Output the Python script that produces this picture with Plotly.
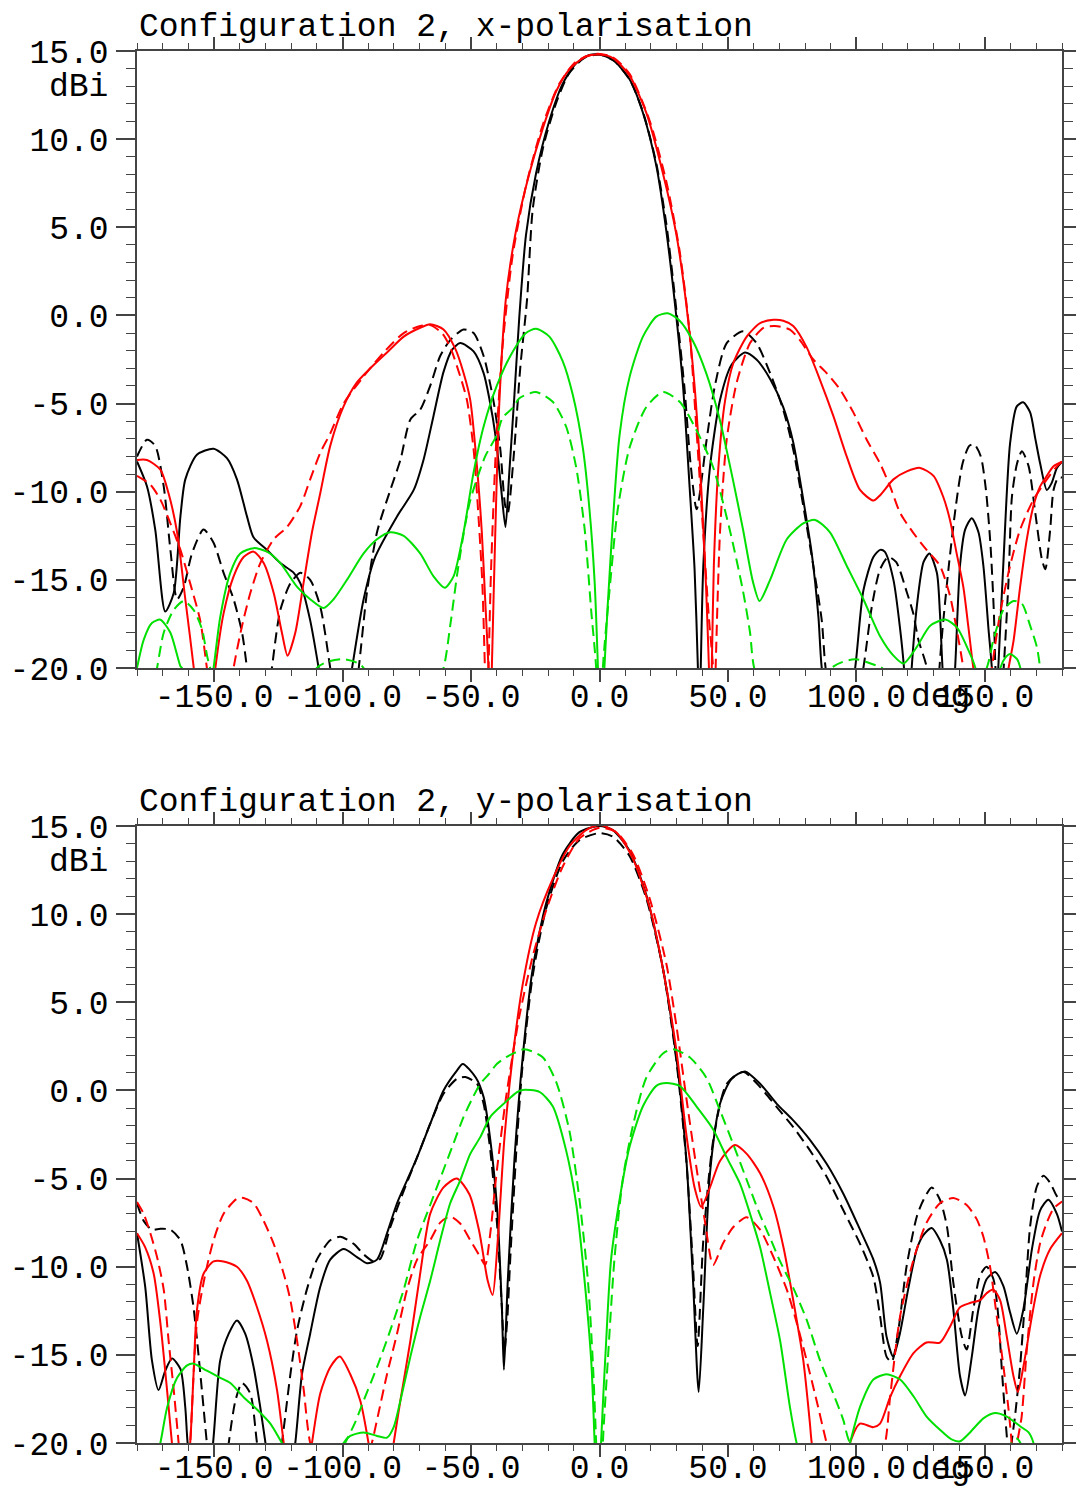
import plotly.graph_objects as go

# ---------------- data: top panel (x-polarisation) ----------------
top_black_solid_x = [-180, -176.1, -172.9, -169, -165.7, -163.1, -161.2, -156.7, -150.2, -145, -141.1, -137.2, -134.6, -129.4, -124.2, -119, -116.4, -112.6, -109.3, -102.8, -96.3, -91.8, -87.3, -78.8, -72.3, -68.5, -64.6, -60.7, -57.4, -54.2, -49, -45.1, -42.9, -40.3, -38.3, -36.6, -35.1, -33.1, -31.2, -28.6, -24.7, -19.5, -14.3, -9.1, -3.9, 0, 5.2, 11.7, 16.9, 22.1, 26, 29.9, 32.5, 35.1, 37, 38.3, 38.9, 39.4, 40.4, 43.0, 46.9, 51.4, 56.6, 61.1, 66.4, 71.5, 75.4, 79.3, 82.6, 85.2, 86.5, 93, 99.5, 102.7, 106.6, 109.2, 111, 114.4, 117, 118.5, 120, 121.5, 123.5, 126.1, 128.4, 131.3, 132.5, 133.5, 136, 138.4, 140.3, 142.3, 144.9, 147.5, 149.4, 151.4, 152.7, 154, 155.2, 157.2, 159.8, 162.4, 164.9, 167.6, 169.5, 171.5, 174.1, 176, 178, 180]
top_black_solid_y = [-8.28, -9.7, -12.15, -16.8, -15.75, -11.4, -9.3, -7.9, -7.56, -8.1, -9.3, -11.4, -12.6, -13.3, -14.05, -14.6, -15.2, -17.3, -20, -26, -20, -16.1, -13.7, -11.4, -9.9, -8.2, -5.7, -3.2, -1.95, -1.57, -2.04, -3.27, -4.7, -7.0, -9.8, -12.0, -8.9, -4.5, -0.07, 4.57, 8.05, 11.06, 13.15, 14.3, 14.77, 14.8, 14.5, 13.4, 11.5, 8.5, 4.8, -0.07, -4.0, -9.8, -14.4, -20, -23, -20, -14.2, -8.6, -4.8, -2.8, -2.1, -2.5, -3.6, -5.2, -7.2, -10.45, -13.5, -17.1, -20, -26, -20, -15.6, -13.7, -13.3, -13.4, -15.0, -17.8, -20, -24, -20, -16.5, -14.0, -13.5, -14.6, -16.9, -20, -25, -20, -14.2, -12.15, -11.5, -12.3, -14.2, -17.8, -20, -24, -20, -14.0, -7.25, -5.16, -4.93, -5.5, -6.9, -8.4, -9.9, -9.5, -8.65, -8.3]

top_black_dash_x = [-180, -176.1, -172.9, -169.6, -167, -164.4, -161.8, -158.6, -154.1, -150.2, -146.3, -142.4, -139.1, -137.2, -132.3, -127.5, -124.2, -120.3, -116.4, -112.6, -108.7, -104.8, -99, -93.7, -90.5, -86.6, -81.4, -77.5, -73.6, -69.8, -65.9, -62, -58.1, -52.9, -49, -45.1, -41.2, -38.6, -36.7, -35.7, -33.4, -30.8, -28.2, -26, -22, -17, -12, -6, 0, 6, 12, 17, 22, 26, 30, 33, 35.5, 37.8, 41.7, 44.9, 49.5, 56, 61.1, 66.4, 71.5, 75.4, 79.3, 83.2, 86.5, 88, 95, 102.7, 106, 109.2, 112.4, 115.5, 119.6, 122.1, 124.1, 127.4, 130, 132.3, 133.5, 136.1, 138.7, 141.3, 143.9, 145.8, 148.4, 150.4, 152.2, 153.5, 154.1, 155.7, 157.3, 159.2, 160.5, 162.5, 164.4, 167, 169.6, 172.2, 173.5, 175.4, 176.7, 178.5, 180]
top_black_dash_y = [-8.0, -7.05, -7.4, -9.7, -13.3, -16.1, -15.4, -13.5, -12.15, -12.9, -14.6, -16.1, -18, -20, -26, -20, -16.7, -15.2, -14.6, -15.0, -16.5, -20, -26, -20, -15.7, -12.3, -9.9, -8.2, -5.9, -5.35, -4.0, -2.3, -1.4, -0.8, -1.0, -2.3, -4.9, -7.6, -10.8, -11.2, -8.0, -2.9, 0.9, 6.0, 9.5, 12.0, 13.7, 14.6, 14.8, 14.4, 13.3, 11.5, 8.7, 5.2, 0.2, -4.0, -8.5, -11.0, -7.05, -4.0, -1.57, -0.9, -1.57, -3.27, -5.35, -7.6, -10.8, -14.2, -17.3, -20, -26, -20, -16.5, -14.4, -13.7, -14.0, -15.7, -16.9, -18.4, -20, -25, -20, -17.8, -14.0, -10.8, -8.4, -7.4, -7.3, -8.0, -9.9, -13.1, -16.9, -20, -23, -20, -15, -10.3, -8.4, -7.7, -8.55, -11.2, -13.85, -14.4, -12.15, -9.9, -9.2, -9.2]

top_red_solid_x = [-180, -176.1, -170.9, -167.7, -164.4, -161.2, -157.9, -153.7, -149.5, -146.3, -142.4, -138.5, -134.6, -130.7, -126.8, -123.6, -121.4, -118.4, -115.2, -111.9, -108.7, -104.8, -99.6, -94.4, -89.2, -82.7, -76.2, -69.8, -65.9, -60.7, -56.1, -52.9, -50.3, -47.7, -45.8, -44.5, -43.2, -42.5, -41.9, -40.5, -39, -36.4, -32.5, -27.3, -22.1, -16.9, -11.7, -5.2, 0, 5.2, 11.7, 18.2, 24.7, 29.9, 33.8, 37, 39.6, 41.5, 42.6, 43.2, 43.7, 44.5, 46.3, 48.9, 52.1, 57.3, 62.5, 67.7, 71.5, 75.4, 80.6, 85.8, 91, 96.2, 101.4, 106.6, 109.2, 114.4, 119.6, 124.8, 130, 133.8, 136.4, 139, 141.6, 143.5, 145.5, 152, 159.2, 161.2, 163.7, 166.3, 168.9, 171.5, 174.1, 176.7, 180]
top_red_solid_y = [-8.2, -8.2, -8.75, -10.1, -12.3, -16.1, -20, -26, -20, -16.9, -14.8, -13.7, -13.4, -14.05, -15.75, -18.0, -19.3, -18, -15.2, -12.3, -10.1, -7.4, -5.16, -3.8, -3.0, -2.1, -1.2, -0.7, -0.5, -0.8, -1.9, -3.27, -4.8, -8.55, -12.3, -16.1, -20, -24, -20, -12, -5, 1.0, 4.8, 8.05, 10.6, 12.7, 13.96, 14.7, 14.8, 14.6, 13.6, 11.5, 8.05, 4.6, 0.6, -4.0, -9.8, -15.5, -20, -23, -20, -14.2, -8.55, -4.8, -2.7, -1.2, -0.44, -0.25, -0.3, -0.6, -1.8, -3.65, -5.7, -8.0, -9.9, -10.5, -10.2, -9.3, -8.85, -8.65, -9.1, -10.3, -11.6, -13.5, -15.4, -17.6, -20, -26, -20, -18.4, -15.4, -12.7, -10.8, -9.7, -9.1, -8.56, -8.3]

top_red_dash_x = [-180, -174.8, -170.9, -167, -163.1, -159.3, -155.4, -152.8, -147.6, -142.4, -139.1, -135.9, -132, -126.8, -121.6, -116.4, -112.6, -108.7, -104.8, -99.6, -91.8, -84, -76.2, -69.8, -65.9, -61.3, -58.1, -54.2, -51.6, -49, -47.1, -45.6, -44.6, -43.9, -43.2, -42.2, -40.3, -37.7, -33.8, -28.6, -22.1, -15.6, -9.1, -1.3, 5.2, 11.7, 19.5, 26, 31.2, 35.1, 37.7, 40.3, 42.5, 44.2, 44.7, 45.2, 46.9, 49.5, 53.4, 58.6, 63.8, 68.3, 74.1, 78, 83.2, 88.4, 93.6, 98.8, 104, 109.2, 113.1, 117, 122.2, 127.3, 132.5, 136.4, 139, 141.6, 147, 152.7, 155.9, 159.8, 163.7, 168.9, 174.1, 178, 180]
top_red_dash_y = [-9.1, -9.6, -10.45, -11.8, -13.3, -15.2, -17.3, -20, -26, -20, -17.6, -15.75, -14.05, -12.7, -12, -10.8, -9.3, -7.8, -6.7, -5.0, -3.46, -2.1, -1.0, -0.6, -0.55, -1.0, -1.8, -3.46, -4.8, -7.6, -11.4, -15.2, -20, -24, -20, -14.4, -7.5, -1.7, 3.4, 7.35, 10.8, 13.15, 14.4, 14.84, 14.65, 13.7, 11.06, 7.6, 3.64, -1.0, -6.4, -12.2, -17, -20, -23, -20, -12.3, -7.05, -3.8, -1.57, -0.7, -0.6, -0.8, -1.4, -2.5, -3.27, -4.2, -5.5, -7.05, -8.4, -9.7, -11.2, -12.35, -13.3, -14.2, -15.9, -17.8, -20, -26, -20, -16.9, -14.2, -12.15, -10.45, -9.3, -8.56, -8.3]

top_green_solid_x = [-180, -177.4, -174.2, -170.9, -167, -163.1, -162.5, -156.5, -150.2, -147.6, -143.7, -139.8, -134.6, -129.4, -124.2, -117.7, -112.6, -107.4, -103.5, -98.3, -91.8, -86.6, -81.4, -76.2, -69.8, -64.6, -60.2, -56.8, -52.9, -49, -45.1, -40, -34.7, -28.6, -24.7, -19.5, -14.3, -10.4, -6.5, -3.9, -1.9, -0.6, 0.6, 1.9, 4.5, 7.8, 11.7, 16.9, 22.1, 26.6, 31.2, 36.4, 41.6, 46.8, 51.9, 55.8, 59.7, 62.3, 66.4, 72.9, 79.3, 83.9, 89.7, 96.2, 102.7, 109.2, 114.4, 118.3, 123.5, 128.7, 134.6, 139.1, 143, 146.3, 151, 156, 158, 159.8, 162.5, 163.8, 172, 180]
top_green_solid_y = [-20, -18.4, -17.45, -17.26, -18, -19.9, -20, -26, -20, -17.1, -14.6, -13.5, -13.2, -13.4, -14.05, -15.4, -16.1, -16.6, -16.1, -15, -13.5, -12.7, -12.3, -12.5, -13.5, -14.8, -15.45, -14.8, -12.3, -8.9, -6.3, -4.0, -2.3, -1.0, -0.76, -1.2, -2.6, -4.5, -7.5, -11, -15.1, -20, -26, -20, -13.3, -6.8, -3.5, -1.2, -0.07, 0.12, -0.3, -1.46, -3.3, -5.9, -9.3, -12.1, -15.1, -16.2, -15, -12.7, -11.8, -11.6, -12.3, -14.2, -16.1, -18.2, -19.3, -19.75, -18.8, -17.6, -17.25, -17.7, -18.8, -20, -25, -20, -19.4, -19.2, -19.5, -20, -26, -26]

top_green_dash_x = [-180, -172.2, -169.6, -165.7, -161.8, -158, -154.7, -151.5, -130, -110, -104.8, -99.6, -94.4, -91.8, -76, -60.7, -58.1, -55, -50.5, -44.5, -40, -37.7, -33.5, -31.2, -24.7, -18.2, -13, -9.1, -5.8, -3.2, -1.3, 0, 1.3, 3.9, 7.1, 11.7, 18.2, 24.7, 31.2, 37.7, 44.2, 50.6, 55.8, 58.6, 60.2, 75, 90.3, 99.4, 108.5, 110, 130, 150.7, 153.3, 157.2, 161.1, 164.4, 167.6, 170.2, 171.5, 176, 180]
top_green_dash_y = [-26, -20, -18, -16.7, -16.2, -16.7, -17.8, -20, -26, -20, -19.6, -19.5, -19.7, -20, -26, -20, -17.6, -14.3, -10.6, -8.0, -6.8, -5.8, -5.2, -4.7, -4.35, -4.9, -6.3, -8.6, -12.1, -16.8, -20, -26, -20, -15.6, -11, -7.5, -5.2, -4.35, -4.9, -6.5, -8.6, -12.1, -15.6, -18, -20, -26, -20, -19.5, -19.9, -20, -26, -20, -18.4, -16.7, -16.2, -16.35, -17.6, -18.8, -20, -26, -26]

# ---------------- data: bottom panel (y-polarisation) ----------------
bot_black_solid_x = [-180, -176.8, -174.2, -171.6, -169, -166.4, -163.1, -161.2, -160.3, -155.3, -150.4, -147.6, -144.3, -141.1, -137.9, -134.6, -132, -130, -124.2, -118.4, -115.8, -112.6, -108.7, -104.8, -99.6, -94.4, -90.5, -86.6, -82.7, -78.8, -74.9, -71, -65.9, -60.7, -55.5, -53.2, -48.1, -45.1, -42.5, -39.9, -38, -37.2, -35.7, -33.1, -29.9, -26, -20.8, -14.3, -7.8, 0, 5.2, 11.7, 18.2, 24.7, 29.9, 33.8, 36.4, 38.6, 40.4, 43, 46.9, 51.4, 56.6, 62.5, 69, 75.4, 81.9, 88.4, 94.9, 101.4, 106.6, 109.2, 111.7, 114.3, 116.9, 120.1, 123.5, 126.1, 129.3, 132.5, 135.2, 137.7, 140.3, 142.3, 144.9, 147.5, 150.7, 154, 157.2, 159.8, 162.4, 165, 168.3, 171.5, 174.7, 178, 180]
bot_black_solid_y = [-8.1, -11.15, -15.3, -17.0, -15.9, -15.2, -15.8, -18, -20, -26, -20, -15.3, -13.8, -13.05, -13.8, -15.7, -18, -20, -26, -20, -16.1, -13.8, -11.15, -9.6, -9.0, -9.45, -9.8, -9.6, -8.1, -6.4, -5.1, -3.8, -1.9, 0.0, 1.13, 1.5, 0.72, -0.38, -2.8, -6.6, -12.3, -15.85, -10.8, -3.9, 1.88, 6.9, 10.6, 13.4, 14.65, 15.0, 14.77, 13.6, 11.1, 6.9, 1.88, -3.9, -10.8, -17.1, -12.3, -4.7, -0.76, 0.66, 1.08, 0.38, -0.76, -1.7, -2.8, -4.16, -5.86, -7.9, -9.6, -10.9, -13.95, -15.1, -13.8, -11.3, -9.0, -8.2, -7.8, -8.5, -9.6, -12.4, -16.2, -17.3, -15.1, -12.4, -10.7, -10.3, -11.1, -12.6, -13.8, -12.4, -9.0, -6.8, -6.2, -7.0, -8.0]

bot_black_dash_x = [-180, -177.4, -174.2, -170.9, -167, -163.1, -160.5, -158, -156, -154.1, -152.8, -148.5, -144.3, -141.7, -139.1, -135.9, -133.3, -128.5, -123.6, -120.3, -117.7, -113.9, -110, -104.8, -100.9, -95.7, -91.8, -87.9, -85.3, -81.4, -76.2, -71, -65.9, -60.7, -55.5, -52.2, -47.7, -45.1, -42.5, -39.9, -38, -37, -35.9, -34.7, -32.1, -29.9, -26, -20.8, -14.3, -7.8, 0, 5.2, 11.7, 18.2, 24.7, 29.9, 33.8, 36.4, 38.2, 40.4, 44.3, 49.5, 56, 62.5, 69, 75.4, 81.9, 88.4, 94.9, 101.4, 106.6, 109.2, 111.7, 113.7, 116.3, 119.5, 123.5, 126.1, 129.3, 132.5, 135.2, 137.7, 141, 142.9, 145.5, 148.1, 150.7, 153.3, 155.2, 156.5, 157.9, 158.7, 159.5, 160.4, 161.7, 163.7, 165.6, 167.6, 170.2, 172.8, 175.4, 178, 180]
bot_black_dash_y = [-6.4, -7.4, -7.9, -7.85, -7.9, -8.5, -10.0, -12.3, -15.1, -18, -20, -25, -20, -17.6, -16.6, -17.2, -20, -25, -20, -16.1, -13.6, -11.3, -9.6, -8.5, -8.3, -8.7, -9.3, -9.7, -9.55, -7.75, -5.7, -3.8, -1.9, -0.19, 0.66, 0.76, 0.38, -0.76, -3.4, -7.55, -12.3, -14.8, -13, -9.45, -2.8, 1.5, 6.5, 10.3, 13.0, 14.2, 14.6, 14.4, 13.3, 10.9, 6.9, 1.7, -4.0, -10.0, -14.5, -8.5, -2.8, 0.38, 1.04, 0.19, -0.95, -2.08, -3.4, -4.9, -6.8, -8.7, -10.6, -12.8, -15.1, -15.4, -13.6, -10.0, -7.15, -6.2, -5.5, -6.2, -7.7, -10.9, -13.95, -14.7, -12.4, -10.5, -10.0, -10.7, -12.8, -15.65, -18.5, -20, -23, -20, -18.5, -15.65, -11.9, -7.7, -5.45, -4.84, -5.25, -6.0, -6.3]

bot_red_solid_x = [-180, -176.8, -173.5, -170.9, -168.3, -166.4, -162.8, -159.3, -158, -156.7, -154.1, -150.2, -146.3, -141.1, -137.2, -133.3, -129.4, -125.5, -122.9, -117.4, -111.9, -108.7, -104.8, -101.1, -97, -93.1, -89.9, -85, -80.1, -77.5, -73.6, -69.8, -65.9, -60.7, -55.5, -50.6, -46.8, -43.5, -41.6, -39.6, -37, -33.8, -29.9, -24.7, -18.2, -11.7, -5.2, 0, 6.5, 13, 19.5, 24.7, 29.9, 33.8, 37, 39.6, 43, 46.9, 52.7, 57.3, 62.5, 67.7, 71.6, 75.4, 79.3, 81.9, 82.6, 90, 97.5, 101.4, 106.6, 109.2, 113.1, 117, 122.2, 127.3, 132.5, 136.4, 140.3, 144.2, 148.1, 150.7, 153.3, 155.9, 158.5, 161.1, 162.8, 165, 168.3, 171.5, 175.4, 180]
bot_red_solid_y = [-8.1, -8.9, -10.4, -13.2, -17, -20, -25, -20, -16.1, -12.5, -10.4, -9.7, -9.7, -10.0, -10.8, -12.3, -14.2, -17, -20, -26, -20, -17.2, -15.7, -15.1, -16.1, -17.6, -20, -25, -20, -17.6, -14.2, -10.4, -7.0, -5.5, -5.0, -5.9, -8.0, -10.8, -11.6, -8.5, -2.7, 1.9, 6.0, 9.5, 12.0, 13.85, 14.77, 15.05, 14.65, 13.15, 10.4, 6.9, 2.3, -2.5, -5.5, -6.6, -5.5, -4.0, -3.1, -3.6, -4.7, -6.6, -8.9, -11.9, -15.3, -18.9, -20, -26, -20, -18.9, -19.1, -18.9, -17.4, -16.2, -14.9, -14.3, -14.3, -13.4, -12.3, -12.06, -11.9, -11.5, -11.3, -11.9, -13.95, -16.2, -17.1, -15.65, -12.8, -10.5, -9.0, -8.1]

bot_red_dash_x = [-180, -177.4, -174.8, -172.2, -169.6, -167.7, -165.7, -163.8, -161.5, -159.3, -156.7, -153.4, -150.2, -146.3, -141.1, -138.5, -134.6, -130.7, -126.8, -122.9, -120.3, -117.7, -115.1, -112.6, -100, -88.6, -86, -82.7, -78.8, -74.9, -71, -65.9, -62, -58.1, -54.2, -50.3, -46.4, -44.5, -42.5, -40.3, -36.4, -31.2, -26, -20.8, -14.3, -7.8, 0, 6.5, 13, 19.5, 26, 29.9, 33.8, 37.7, 40.9, 44.2, 48, 52.1, 57.3, 62.5, 67.7, 72.9, 76.8, 80.6, 84.5, 88.4, 100, 111.2, 113.1, 117, 122.2, 127.3, 132.5, 137.7, 142.9, 146.8, 149.4, 152, 154.6, 157.2, 159.2, 160.4, 161.5, 162.6, 164.3, 166.3, 168.9, 171.5, 174.1, 176.7, 180]
bot_red_dash_y = [-6.33, -7.0, -8.1, -9.45, -11.3, -14.2, -17, -20, -24, -20, -13.2, -10.4, -8.5, -7.0, -6.14, -6.1, -6.4, -7.4, -8.7, -10.4, -11.9, -14.2, -17, -20, -26, -20, -18.3, -16.1, -13.8, -11.3, -9.6, -8.5, -7.5, -7.15, -7.55, -8.5, -9.45, -9.9, -8.1, -5.0, -0.43, 4.2, 7.6, 10.2, 12.7, 14.3, 14.9, 14.65, 13.4, 10.9, 7.2, 3.7, -0.43, -4.35, -7.3, -9.9, -8.7, -7.75, -7.2, -7.9, -9.45, -11.3, -13.2, -15.3, -17.6, -20, -26, -20, -17.4, -12.8, -9.6, -7.5, -6.4, -6.1, -6.5, -7.3, -8.3, -10.0, -12.8, -15.65, -18.1, -20, -23, -20, -18.5, -14.7, -10.9, -8.65, -7.5, -6.7, -6.3]

bot_green_solid_x = [-180, -170.9, -168.3, -164.4, -160.5, -158, -152.8, -147.6, -143.7, -138.5, -133.3, -128.1, -124.2, -123.6, -112, -99.6, -97, -91.8, -86.6, -82.7, -80.1, -77.5, -73.6, -69.8, -65.9, -62, -58.1, -54.2, -50.3, -46.4, -42.5, -37.3, -32.1, -29.9, -23.4, -18.2, -13, -9.1, -5.8, -3.2, -1.9, -0.6, 0.6, 2.6, 4.5, 7.8, 11.7, 16.9, 22.1, 26, 31.2, 37.7, 44.2, 49.5, 54.7, 58.6, 62.5, 66.4, 70.3, 74.1, 76.7, 87, 97.5, 101.4, 106.6, 111.7, 117, 122.2, 127.3, 132.5, 137, 140.3, 144.2, 149.4, 153.9, 158.5, 163.7, 167, 168.9, 175, 180]
bot_green_solid_y = [-26, -20, -18, -16.3, -15.6, -15.5, -15.9, -16.3, -16.6, -17.4, -18.1, -18.9, -19.85, -20, -26, -20, -19.6, -19.4, -19.6, -19.7, -19.1, -17.6, -15.1, -12.85, -10.8, -8.5, -6.4, -5.1, -3.6, -2.65, -1.5, -0.76, -0.1, 0.03, -0.08, -0.9, -3.4, -6.4, -10.8, -15.4, -20, -26, -20, -14.2, -9.6, -6.2, -3.2, -0.9, 0.26, 0.42, 0.26, -0.9, -2.2, -3.8, -5.3, -7.0, -8.9, -11.5, -14.2, -17.95, -20, -26, -20, -17.95, -16.4, -16.1, -16.4, -17.35, -18.5, -19.25, -19.8, -19.9, -19.4, -18.6, -18.3, -18.5, -19.05, -19.4, -20, -26, -26]

bot_green_dash_x = [-180, -120, -99, -95, -91.8, -86.6, -81.4, -76.2, -71, -65.9, -60.7, -56.8, -52.9, -49.4, -46.4, -42.9, -40, -36.4, -33.5, -29.2, -22.1, -16.9, -11.7, -7.8, -4.5, -2.6, -1.3, 0, 1.3, 3.2, 5.8, 9.1, 13, 18.2, 24.7, 28.6, 35.1, 41.6, 46.8, 51.9, 57.1, 62.3, 66.5, 70.3, 75.4, 80.6, 85.8, 91, 94.9, 97.5, 130, 160.4, 162.2, 163.8, 172, 180]
bot_green_dash_y = [-26, -26, -20, -18.8, -17.6, -15.7, -13.6, -11.3, -8.5, -6.5, -4.5, -3.0, -1.5, -0.43, 0.38, 0.95, 1.5, 1.88, 2.1, 2.34, 1.88, 0.5, -2.3, -6.2, -10.8, -15.4, -20, -26, -20, -15.4, -9.6, -5.0, -2.0, 0.72, 2.1, 2.34, 1.88, 0.72, -1.1, -3.0, -5.0, -7.0, -8.4, -9.7, -11.2, -13.0, -15.3, -17.2, -18.7, -20, -26, -20, -19.75, -20, -26, -26]

# ---------------- axes labelling ----------------
x_tick_vals = [-150, -100, -50, 0, 50, 100, 150]
x_tick_text = ["-150.0", "-100.0", "-50.0", "0.0", "50.0", "100.0", "150.0"]
y_tick_vals = [-20, -15, -10, -5, 0, 5, 10, 15]
y_tick_text = ["-20.0", "-15.0", "-10.0", "-5.0", "0.0", "5.0", "10.0", "15.0"]
panel_titles = ["Configuration 2, x-polarisation", "Configuration 2, y-polarisation"]

BLACK = "#000000"
RED = "#ff0000"
GREEN = "#00e000"
DASH = "11px,6px"
FONT = "Liberation Mono"
FS = 33
AX = "#444444"

W, H = 1076, 1488
ML, MR, MT, MB = 137, 14, 51, 45
PW, PH = W - ML - MR, H - MT - MB
top_dom = [(H - MB - 668) / PH, 1.0]
bot_dom = [0.0, (H - MB - 826) / PH]

fig = go.Figure()

def add(x, y, color, dash, xa, ya):
    fig.add_trace(go.Scatter(
        x=x, y=y, mode="lines", xaxis=xa, yaxis=ya, showlegend=False,
        line=dict(color=color, width=2, dash=dash, shape="spline", smoothing=0.7),
        hoverinfo="skip"))

panels = [
    ("x", "y", [
        (top_black_solid_x, top_black_solid_y, BLACK, "solid"),
        (top_black_dash_x, top_black_dash_y, BLACK, DASH),
        (top_red_solid_x, top_red_solid_y, RED, "solid"),
        (top_red_dash_x, top_red_dash_y, RED, DASH),
        (top_green_solid_x, top_green_solid_y, GREEN, "solid"),
        (top_green_dash_x, top_green_dash_y, GREEN, DASH),
    ]),
    ("x2", "y2", [
        (bot_black_solid_x, bot_black_solid_y, BLACK, "solid"),
        (bot_black_dash_x, bot_black_dash_y, BLACK, DASH),
        (bot_red_solid_x, bot_red_solid_y, RED, "solid"),
        (bot_red_dash_x, bot_red_dash_y, RED, DASH),
        (bot_green_solid_x, bot_green_solid_y, GREEN, "solid"),
        (bot_green_dash_x, bot_green_dash_y, GREEN, DASH),
    ]),
]
for xa, ya, traces in panels:
    for x, y, c, d in traces:
        add(x, y, c, d, xa, ya)

tickfont = dict(family=FONT, size=FS, color="black")

def xaxis(anchor, standoff):
    return dict(
        range=[-180, 180], anchor=anchor, domain=[0, 1], automargin=False,
        tickmode="array", tickvals=x_tick_vals, ticktext=x_tick_text,
        ticks="outside", ticklen=12, tickwidth=1.5, tickcolor=AX,
        ticklabelstandoff=standoff,
        showline=True, linecolor=AX, linewidth=1.5, mirror="ticks",
        showgrid=False, zeroline=False, tickfont=tickfont,
        minor=dict(tickmode="array", tickvals=list(range(-180, 181, 10)),
                   ticks="outside", ticklen=6, tickwidth=1.2, tickcolor=AX, showgrid=False),
    )

def yaxis(anchor, dom):
    return dict(
        range=[-20, 15], anchor=anchor, domain=dom, automargin=False,
        tickmode="array", tickvals=y_tick_vals, ticktext=y_tick_text,
        ticks="outside", ticklen=19, tickwidth=1.5, tickcolor=AX,
        ticklabelstandoff=1,
        showline=True, linecolor=AX, linewidth=1.5, mirror="ticks",
        showgrid=False, zeroline=False, tickfont=tickfont,
        minor=dict(tickmode="array", tickvals=list(range(-20, 16, 1)),
                   ticks="outside", ticklen=9, tickwidth=1.2, tickcolor=AX, showgrid=False),
    )

fig.update_layout(
    width=W, height=H,
    margin=dict(l=ML, r=MR, t=MT, b=MB, pad=0, autoexpand=False),
    paper_bgcolor="white", plot_bgcolor="white",
    xaxis=xaxis("y", -14), yaxis=yaxis("x", top_dom),
    xaxis2=xaxis("y2", -18), yaxis2=yaxis("x2", bot_dom),
    showlegend=False,
)

def py2paper(py):
    return (H - MB - py) / PH

def px2paper(px):
    return (px - ML) / PW

annots = []
for title, top_px in zip(panel_titles, [51, 826]):
    annots.append(dict(text=title, x=0, y=py2paper(top_px - 24), xref="paper", yref="paper",
                       xanchor="left", yanchor="middle", showarrow=False,
                       font=dict(family=FONT, size=FS, color="black")))
    annots.append(dict(text="dBi", x=px2paper(110), y=py2paper(top_px + 36), xref="paper", yref="paper",
                       xanchor="right", yanchor="middle", showarrow=False,
                       font=dict(family=FONT, size=FS, color="black")))
annots.append(dict(text="deg", x=px2paper(940), y=py2paper(51 + 617 + 30), xref="paper", yref="paper",
                   xanchor="center", yanchor="middle", showarrow=False,
                   font=dict(family=FONT, size=FS, color="black")))
annots.append(dict(text="deg", x=px2paper(940), y=py2paper(826 + 617 + 27), xref="paper", yref="paper",
                   xanchor="center", yanchor="middle", showarrow=False,
                   font=dict(family=FONT, size=FS, color="black")))
fig.update_layout(annotations=annots)

fig.write_html("out.html", config={"displayModeBar": False},
               post_script="document.body.style.margin='0px';document.body.style.overflow='hidden';")
